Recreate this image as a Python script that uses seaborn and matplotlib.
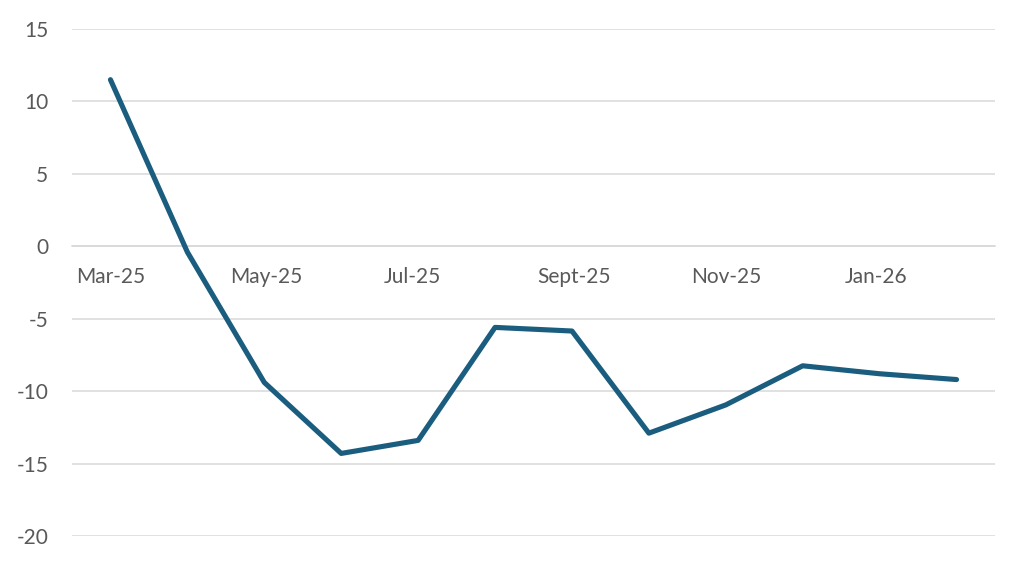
import matplotlib
matplotlib.use('Agg')
import matplotlib.pyplot as plt
import matplotlib.transforms as mtransforms
import pandas as pd
import seaborn as sns

# Monthly values
months = ['Mar-25', 'Apr-25', 'May-25', 'Jun-25', 'Jul-25', 'Aug-25',
          'Sept-25', 'Oct-25', 'Nov-25', 'Dec-25', 'Jan-26', 'Feb-26']
values = [11.5, -0.4, -9.4, -14.3, -13.4, -5.6,
          -5.85, -12.9, -10.95, -8.25, -8.8, -9.2]
y_ticks = [-20, -15, -10, -5, 0, 5, 10, 15]

df = pd.DataFrame({'month': months, 'value': values})
df['pos'] = range(len(months))

sns.set_style('white')
plt.rcParams['font.family'] = ['Lato', 'DejaVu Sans']

fig = plt.figure(figsize=(10.24, 5.65), dpi=100)
ax = fig.add_axes([72 / 1024, (565 - 536) / 565, (995 - 72) / 1024, 507 / 565])

grid_color = '#d9d9d9'
text_color = '#595959'

for yv in y_ticks:
    ax.axhline(yv, color=grid_color, linewidth=1.1, zorder=0)

sns.lineplot(data=df, x='pos', y='value', color='#1b5d7e', linewidth=3.7,
             ax=ax, sort=False, zorder=3, solid_capstyle='round')

ax.set_xlim(-0.5, len(months) - 0.5)
ax.set_ylim(-20, 15)

# x axis sits at zero, ticks every two months at category boundaries
for side in ['left', 'right', 'top']:
    ax.spines[side].set_visible(False)
ax.spines['bottom'].set_position(('data', 0))
ax.spines['bottom'].set_color(grid_color)
ax.spines['bottom'].set_linewidth(1.1)

tick_pos = [i - 0.5 for i in range(0, len(months) + 1, 2)]
tick_lab = [months[i] if i < len(months) else '' for i in range(0, len(months) + 1, 2)]
ax.set_xticks(tick_pos)
ax.set_xticklabels(tick_lab, ha='left')
ax.tick_params(axis='x', direction='out', length=6, width=1.2, color='#cfcfcf',
               labelsize=15, labelcolor=text_color, pad=9)
offset = mtransforms.ScaledTranslation(4 / 100, 0, fig.dpi_scale_trans)
for lab in ax.get_xticklabels():
    lab.set_transform(lab.get_transform() + offset)

ax.set_yticks(y_ticks)
ax.set_yticklabels([str(v) for v in y_ticks])
ax.tick_params(axis='y', length=0, labelsize=15, labelcolor=text_color, pad=17)

ax.set_xlabel('')
ax.set_ylabel('')
ax.grid(False)

fig.savefig('out.png', dpi=100)
